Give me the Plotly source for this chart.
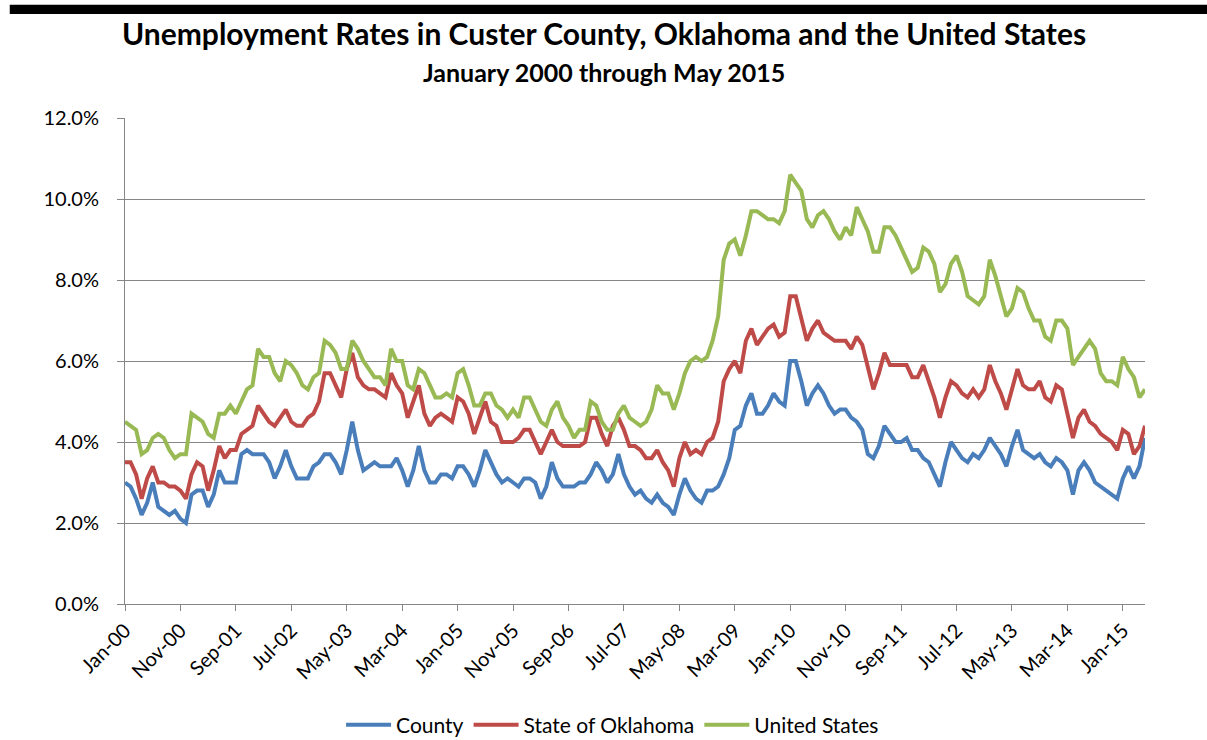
import pandas as pd
import plotly.graph_objects as go

# monthly, Jan 2000 - May 2015 (percent)
months = list(pd.date_range("2000-01-01", "2015-05-01", freq="MS").strftime("%b-%y"))

county = [
    3.0, 2.9, 2.6, 2.2, 2.5, 3.0, 2.4, 2.3, 2.2, 2.3, 2.1, 2.0,
    2.7, 2.8, 2.8, 2.4, 2.7, 3.3, 3.0, 3.0, 3.0, 3.7, 3.8, 3.7,
    3.7, 3.7, 3.5, 3.1, 3.4, 3.8, 3.4, 3.1, 3.1, 3.1, 3.4, 3.5,
    3.7, 3.7, 3.5, 3.2, 3.8, 4.5, 3.8, 3.3, 3.4, 3.5, 3.4, 3.4,
    3.4, 3.6, 3.3, 2.9, 3.3, 3.9, 3.3, 3.0, 3.0, 3.2, 3.2, 3.1,
    3.4, 3.4, 3.2, 2.9, 3.3, 3.8, 3.5, 3.2, 3.0, 3.1, 3.0, 2.9,
    3.1, 3.1, 3.0, 2.6, 2.9, 3.5, 3.1, 2.9, 2.9, 2.9, 3.0, 3.0,
    3.2, 3.5, 3.3, 3.0, 3.2, 3.7, 3.2, 2.9, 2.7, 2.8, 2.6, 2.5,
    2.7, 2.5, 2.4, 2.2, 2.7, 3.1, 2.8, 2.6, 2.5, 2.8, 2.8, 2.9,
    3.2, 3.6, 4.3, 4.4, 4.9, 5.2, 4.7, 4.7, 4.9, 5.2, 5.0, 4.9,
    6.0, 6.0, 5.5, 4.9, 5.2, 5.4, 5.2, 4.9, 4.7, 4.8, 4.8, 4.6,
    4.5, 4.3, 3.7, 3.6, 3.9, 4.4, 4.2, 4.0, 4.0, 4.1, 3.8, 3.8,
    3.6, 3.5, 3.2, 2.9, 3.5, 4.0, 3.8, 3.6, 3.5, 3.7, 3.6, 3.8,
    4.1, 3.9, 3.7, 3.4, 3.9, 4.3, 3.8, 3.7, 3.6, 3.7, 3.5, 3.4,
    3.6, 3.5, 3.3, 2.7, 3.3, 3.5, 3.3, 3.0, 2.9, 2.8, 2.7, 2.6,
    3.1, 3.4, 3.1, 3.4, 4.1,
]

oklahoma = [
    3.5, 3.5, 3.2, 2.6, 3.1, 3.4, 3.0, 3.0, 2.9, 2.9, 2.8, 2.6,
    3.2, 3.5, 3.4, 2.8, 3.3, 3.9, 3.6, 3.8, 3.8, 4.2, 4.3, 4.4,
    4.9, 4.7, 4.5, 4.4, 4.6, 4.8, 4.5, 4.4, 4.4, 4.6, 4.7, 5.0,
    5.7, 5.7, 5.4, 5.1, 5.8, 6.2, 5.6, 5.4, 5.3, 5.3, 5.2, 5.1,
    5.7, 5.4, 5.2, 4.6, 5.0, 5.4, 4.7, 4.4, 4.6, 4.7, 4.6, 4.5,
    5.1, 5.0, 4.7, 4.2, 4.6, 5.0, 4.5, 4.4, 4.0, 4.0, 4.0, 4.1,
    4.3, 4.3, 4.0, 3.7, 4.0, 4.3, 4.0, 3.9, 3.9, 3.9, 3.9, 4.0,
    4.6, 4.6, 4.2, 3.9, 4.4, 4.6, 4.3, 3.9, 3.9, 3.8, 3.6, 3.6,
    3.8, 3.5, 3.3, 2.9, 3.6, 4.0, 3.7, 3.8, 3.7, 4.0, 4.1, 4.5,
    5.5, 5.8, 6.0, 5.7, 6.5, 6.8, 6.4, 6.6, 6.8, 6.9, 6.6, 6.7,
    7.6, 7.6, 7.0, 6.5, 6.8, 7.0, 6.7, 6.6, 6.5, 6.5, 6.5, 6.3,
    6.6, 6.4, 5.8, 5.3, 5.7, 6.2, 5.9, 5.9, 5.9, 5.9, 5.6, 5.6,
    5.9, 5.5, 5.1, 4.6, 5.1, 5.5, 5.4, 5.2, 5.1, 5.3, 5.1, 5.3,
    5.9, 5.5, 5.2, 4.8, 5.3, 5.8, 5.4, 5.3, 5.3, 5.5, 5.1, 5.0,
    5.4, 5.3, 4.7, 4.1, 4.6, 4.8, 4.5, 4.4, 4.2, 4.1, 4.0, 3.8,
    4.3, 4.2, 3.7, 3.9, 4.4,
]

united_states = [
    4.5, 4.4, 4.3, 3.7, 3.8, 4.1, 4.2, 4.1, 3.8, 3.6, 3.7, 3.7,
    4.7, 4.6, 4.5, 4.2, 4.1, 4.7, 4.7, 4.9, 4.7, 5.0, 5.3, 5.4,
    6.3, 6.1, 6.1, 5.7, 5.5, 6.0, 5.9, 5.7, 5.4, 5.3, 5.6, 5.7,
    6.5, 6.4, 6.2, 5.8, 5.8, 6.5, 6.3, 6.0, 5.8, 5.6, 5.6, 5.4,
    6.3, 6.0, 6.0, 5.4, 5.3, 5.8, 5.7, 5.4, 5.1, 5.1, 5.2, 5.1,
    5.7, 5.8, 5.4, 4.9, 4.9, 5.2, 5.2, 4.9, 4.8, 4.6, 4.8, 4.6,
    5.1, 5.1, 4.8, 4.5, 4.4, 4.8, 5.0, 4.6, 4.4, 4.1, 4.3, 4.3,
    5.0, 4.9, 4.5, 4.3, 4.3, 4.7, 4.9, 4.6, 4.5, 4.4, 4.5, 4.8,
    5.4, 5.2, 5.2, 4.8, 5.2, 5.7, 6.0, 6.1, 6.0, 6.1, 6.5, 7.1,
    8.5, 8.9, 9.0, 8.6, 9.1, 9.7, 9.7, 9.6, 9.5, 9.5, 9.4, 9.7,
    10.6, 10.4, 10.2, 9.5, 9.3, 9.6, 9.7, 9.5, 9.2, 9.0, 9.3, 9.1,
    9.8, 9.5, 9.2, 8.7, 8.7, 9.3, 9.3, 9.1, 8.8, 8.5, 8.2, 8.3,
    8.8, 8.7, 8.4, 7.7, 7.9, 8.4, 8.6, 8.2, 7.6, 7.5, 7.4, 7.6,
    8.5, 8.1, 7.6, 7.1, 7.3, 7.8, 7.7, 7.3, 7.0, 7.0, 6.6, 6.5,
    7.0, 7.0, 6.8, 5.9, 6.1, 6.3, 6.5, 6.3, 5.7, 5.5, 5.5, 5.4,
    6.1, 5.8, 5.6, 5.1, 5.3,
]

tick_labels = months[::10]

series = [
    ("County", county, "#4a7ebb"),
    ("State of Oklahoma", oklahoma, "#be4b48"),
    ("United States", united_states, "#98b954"),
]

fig = go.Figure()
for name, vals, color in series:
    fig.add_trace(go.Scatter(x=months, y=vals, name=name, mode="lines",
                             line=dict(color=color, width=4)))

grid = "#868686"
fig.update_xaxes(type="category", range=[0, len(months) - 1],
                 tickvals=tick_labels, ticktext=tick_labels, tickangle=-45,
                 showgrid=False, showline=True, linecolor=grid, linewidth=1,
                 ticks="outside", ticklen=6, tickcolor=grid,
                 tickfont=dict(size=20, color="#000"))
fig.update_yaxes(range=[0, 12], dtick=2, tickformat=".1f", ticksuffix="%",
                 showgrid=True, gridcolor=grid, gridwidth=1,
                 showline=True, linecolor=grid, linewidth=1,
                 ticks="outside", ticklen=7, tickcolor=grid, zeroline=False,
                 ticklabelstandoff=14,
                 tickfont=dict(size=20, color="#000"))

fig.update_layout(
    width=1207, height=740,
    margin=dict(l=125, r=62, t=118, b=136, autoexpand=False),
    font=dict(family="Lato, 'Open Sans', sans-serif", color="#000"),
    plot_bgcolor="white", paper_bgcolor="white",
    showlegend=True,
    legend=dict(orientation="h", x=0.478, xanchor="center", y=-0.249, yanchor="middle",
                font=dict(size=21), itemwidth=45, tracegroupgap=0),
    annotations=[
        dict(text="<b>Unemployment Rates in Custer County, Oklahoma and the United States</b>",
             x=0.47, y=1.175, xref="paper", yref="paper", showarrow=False,
             font=dict(size=30), xanchor="center", yanchor="middle"),
        dict(text="<b>January 2000 through May 2015</b>",
             x=0.47, y=1.0946, xref="paper", yref="paper", showarrow=False,
             font=dict(size=25), xanchor="center", yanchor="middle"),
    ],
    shapes=[dict(type="rect", xref="paper", yref="paper",
                 x0=-0.113, x1=1.07, y0=1.214, y1=1.233,
                 fillcolor="black", line=dict(width=0))],
)

fig.write_html("out.html", config={"displayModeBar": False},
               post_script="document.body.style.margin = '0';")
